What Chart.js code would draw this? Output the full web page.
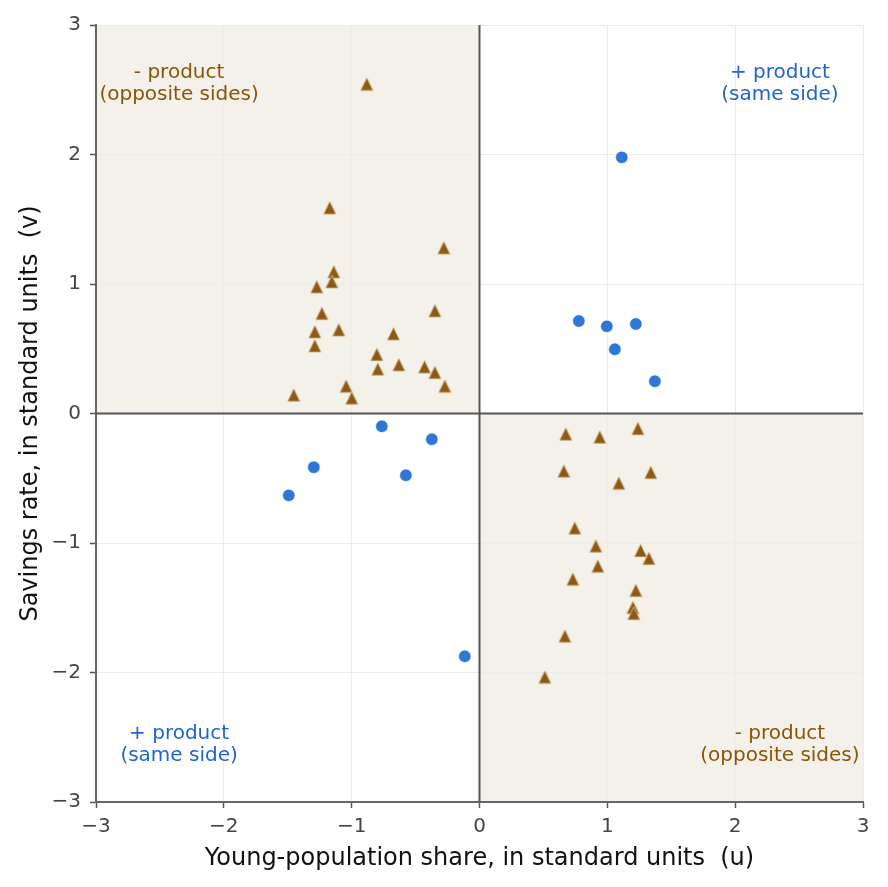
<!DOCTYPE html>
<html>
<head>
<meta charset="utf-8">
<script src="https://cdn.jsdelivr.net/npm/chart.js@4"></script>
<style>
  html, body { margin: 0; padding: 0; background: #ffffff; }
  #wrap { width: 888px; height: 887px; }
</style>
</head>
<body>
<div id="wrap"><canvas id="c" width="888" height="887"></canvas></div>
<script>
// Same-side (+ product) points: u values and v values
const sameSideU = [1.113, 0.777, 0.996, 1.223, 1.059, 1.372, -0.764, -0.373, -1.296, -0.576, -1.492, -0.115];
const sameSideV = [1.978, 0.714, 0.673, 0.691, 0.496, 0.249, -0.099, -0.199, -0.415, -0.477, -0.632, -1.875];

// Opposite-side (- product) points
const oppositeU = [-0.882, -1.171, -0.279, -1.140, -1.155, -1.273, -1.233, -0.349, -1.288, -1.101, -0.673,
                   -1.288, -0.803, -0.795, -0.631, -0.430, -0.349, -0.271, -1.043, -0.999, -1.453,
                   0.675, 0.941, 1.239, 0.660, 1.340, 1.090, 0.746, 0.910, 1.260, 1.325, 0.926, 0.730,
                   1.223, 1.200, 1.207, 0.668, 0.511];
const oppositeV = [2.544, 1.589, 1.280, 1.095, 1.018, 0.979, 0.774, 0.794, 0.632, 0.647, 0.616,
                   0.524, 0.457, 0.344, 0.377, 0.361, 0.318, 0.212, 0.212, 0.120, 0.143,
                   -0.158, -0.181, -0.115, -0.444, -0.454, -0.537, -0.884, -1.023, -1.057, -1.118, -1.178, -1.278,
                   -1.365, -1.497, -1.543, -1.718, -2.035];

const tickValues = [-3, -2, -1, 0, 1, 2, 3];
const axisMin = -3, axisMax = 3;

const quadrantLabels = [
  { u: -2.35, v: 2.55, lines: ['- product', '(opposite sides)'], color: '#8B5509' },
  { u: 2.35, v: 2.55, lines: ['+ product', '(same side)'], color: '#1F66CC' },
  { u: -2.35, v: -2.55, lines: ['+ product', '(same side)'], color: '#1F66CC' },
  { u: 2.35, v: -2.55, lines: ['- product', '(opposite sides)'], color: '#8B5509' }
];

const toPts = (xs, ys) => xs.map((x, i) => ({ x: x, y: ys[i] }));

const FONT = "'DejaVu Sans', sans-serif";
const minus = s => String(s).replace('-', '\u2212');

// matplotlib-like upward triangle marker image
function makeTriangle() {
  const c = document.createElement('canvas');
  c.width = 15; c.height = 15;
  const g = c.getContext('2d');
  g.beginPath();
  g.moveTo(7.5, 1);
  g.lineTo(1.2, 14);
  g.lineTo(13.8, 14);
  g.closePath();
  g.fillStyle = '#8C5A16';
  g.fill();
  g.lineWidth = 0.7;
  g.strokeStyle = '#E6CFA8';
  g.stroke();
  return c;
}
const triImg = makeTriangle();

const quadrantPlugin = {
  id: 'quadrants',
  beforeDraw(chart) {
    const { ctx, chartArea: a, scales: { x, y } } = chart;
    const x0 = x.getPixelForValue(0), y0 = y.getPixelForValue(0);
    ctx.save();
    ctx.fillStyle = '#F4F1EA';
    ctx.fillRect(a.left, a.top, x0 - a.left, y0 - a.top);
    ctx.fillRect(x0, y0, a.right - x0, a.bottom - y0);
    ctx.restore();
  },
  beforeDatasetsDraw(chart) {
    const { ctx, chartArea: a, scales: { x, y } } = chart;
    const x0 = x.getPixelForValue(0), y0 = y.getPixelForValue(0);
    ctx.save();
    ctx.strokeStyle = '#555555';
    ctx.lineWidth = 2;
    ctx.beginPath();
    ctx.moveTo(x0, a.top); ctx.lineTo(x0, a.bottom);
    ctx.moveTo(a.left, y0); ctx.lineTo(a.right, y0);
    ctx.stroke();
    ctx.restore();
  },
  afterDatasetsDraw(chart) {
    const { ctx, scales: { x, y } } = chart;
    ctx.save();
    ctx.font = '20px ' + FONT;
    ctx.textAlign = 'center';
    ctx.textBaseline = 'middle';
    quadrantLabels.forEach(q => {
      const px = x.getPixelForValue(q.u), py = y.getPixelForValue(q.v);
      ctx.fillStyle = q.color;
      ctx.fillText(q.lines[0], px, py - 10);
      ctx.fillText(q.lines[1], px, py + 12);
    });
    ctx.restore();
  }
};

new Chart(document.getElementById('c'), {
  type: 'scatter',
  data: {
    datasets: [
      {
        label: '+ product (same side)',
        data: toPts(sameSideU, sameSideV),
        pointStyle: 'circle',
        pointRadius: 6.2,
        pointHoverRadius: 6.2,
        backgroundColor: '#2E77D6',
        borderColor: '#ffffff',
        borderWidth: 0.6
      },
      {
        label: '- product (opposite sides)',
        data: toPts(oppositeU, oppositeV),
        pointStyle: triImg,
        pointRadius: 7.5,
        pointHoverRadius: 7.5,
        backgroundColor: '#8C5A16',
        borderColor: '#E9D5B5',
        borderWidth: 0.7
      }
    ]
  },
  options: {
    responsive: false,
    animation: false,
    events: [],
    layout: { padding: { top: 25, right: 25, left: 0, bottom: 0 } },
    plugins: { legend: { display: false }, tooltip: { enabled: false } },
    scales: {
      x: {
        type: 'linear',
        min: axisMin, max: axisMax,
        afterBuildTicks: s => { s.ticks = tickValues.map(v => ({ value: v })); },
        afterFit: s => { s.height = 85; },
        grid: { color: '#ECECEC', lineWidth: 1, tickColor: '#555555', tickLength: 6, tickWidth: 1.5 },
        border: { color: '#666666', width: 2 },
        ticks: { color: '#444444', font: { family: FONT, size: 20 }, padding: 7, maxRotation: 0, callback: v => minus(v) },
        title: { display: true, text: 'Young-population share, in standard units  (u)', color: '#111111', font: { family: FONT, size: 24 }, padding: { top: 4, bottom: 14 } }
      },
      y: {
        type: 'linear',
        min: axisMin, max: axisMax,
        afterBuildTicks: s => { s.ticks = tickValues.map(v => ({ value: v })); },
        afterFit: s => { s.width = 96; },
        grid: { color: '#ECECEC', lineWidth: 1, tickColor: '#555555', tickLength: 6, tickWidth: 1.5 },
        border: { color: '#666666', width: 2 },
        ticks: { color: '#444444', font: { family: FONT, size: 20 }, padding: 9, callback: v => minus(v) },
        title: { display: true, text: 'Savings rate, in standard units  (v)', color: '#111111', font: { family: FONT, size: 24 }, padding: { top: 16, bottom: 0 } }
      }
    }
  },
  plugins: [quadrantPlugin]
});
</script>
</body>
</html>
